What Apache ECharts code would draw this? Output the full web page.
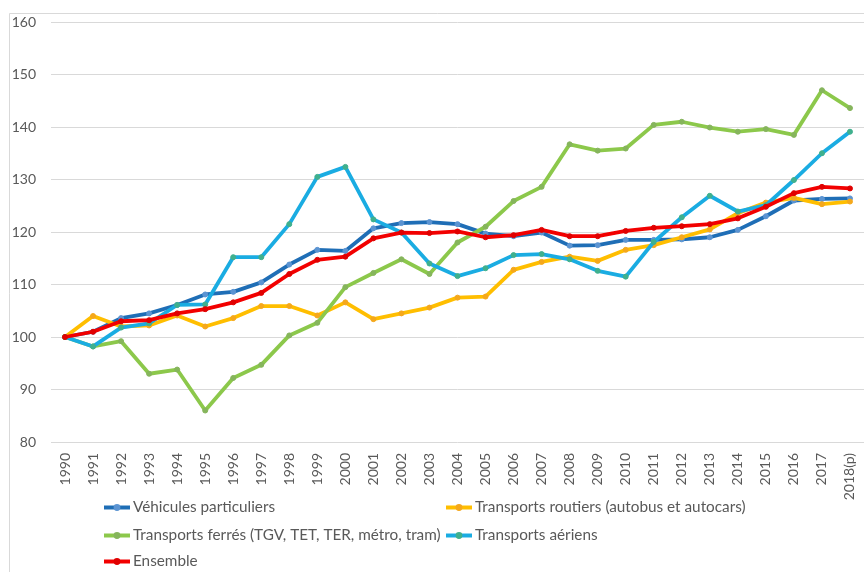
<!DOCTYPE html>
<html>
<head>
<meta charset="utf-8">
<script src="https://cdn.jsdelivr.net/npm/echarts@6/dist/echarts.min.js"></script>
<style>
html,body{margin:0;padding:0;background:#fff;}
#chart{width:864px;height:572px;}
</style>
</head>
<body>
<div id="chart"></div>
<script>
const years = ['1990','1991','1992','1993','1994','1995','1996','1997','1998','1999','2000','2001','2002','2003','2004','2005','2006','2007','2008','2009','2010','2011','2012','2013','2014','2015','2016','2017','2018(p)'];

const vehicules = [100,101,103.6,104.5,106.1,108.1,108.6,110.4,113.8,116.6,116.4,120.7,121.7,121.9,121.5,119.7,119.2,119.9,117.4,117.5,118.5,118.5,118.6,119.0,120.4,123.0,126.0,126.3,126.4];
const routiers = [100,104.0,102.0,102.2,104.1,102.0,103.6,105.9,105.9,104.1,106.6,103.4,104.5,105.6,107.5,107.7,112.8,114.3,115.3,114.5,116.6,117.5,119.0,120.5,123.6,125.6,126.5,125.3,125.8];
const ferres = [100,98.2,99.2,93.0,93.8,86.0,92.2,94.7,100.3,102.7,109.5,112.2,114.8,112.0,118.0,121.0,125.9,128.6,136.7,135.5,135.9,140.4,141.0,139.9,139.1,139.6,138.5,147.0,143.6];
const aeriens = [100,98.2,101.8,102.6,106.1,106.2,115.2,115.2,121.5,130.5,132.4,122.4,119.9,114.0,111.6,113.1,115.6,115.8,114.8,112.6,111.5,118.1,122.8,126.9,123.9,125.1,129.9,135.0,139.1];
const ensemble = [100,101.0,103.0,103.2,104.5,105.3,106.6,108.4,112.0,114.7,115.3,118.8,119.9,119.8,120.1,119.0,119.4,120.4,119.2,119.2,120.2,120.8,121.1,121.5,122.6,124.8,127.4,128.6,128.3];

const names = ['Véhicules particuliers','Transports routiers (autobus et autocars)','Transports ferrés (TGV, TET, TER, métro, tram)','Transports aériens','Ensemble'];
const values = [vehicules, routiers, ferres, aeriens, ensemble];
const lineColors = ['#1F6EB6','#FFBE00','#8CC84B','#1AACE2','#F20000'];
const markerColors = ['#5B94D2','#F5A81C','#86B55C','#3FB08E','#E00000'];

const FONT = 'Lato, "Liberation Sans", sans-serif';
const TXT = '#595959';

const chart = echarts.init(document.getElementById('chart'), null, {renderer:'canvas'});

const legendPos = [
  {left:102, top:500},
  {left:444, top:500},
  {left:102, top:528},
  {left:444, top:528},
  {left:102, top:554}
];

chart.setOption({
  animation:false,
  backgroundColor:'#fff',
  graphic:[{
    type:'rect', silent:true, z:-10,
    shape:{x:9.5, y:13.5, width:900, height:600},
    style:{fill:'none', stroke:'#d9d9d9', lineWidth:1}
  }],
  grid:{left:51, top:22, width:821.7, height:420, containLabel:false},
  legend: names.map((n,i)=>({
    data:[n], left:legendPos[i].left, top:legendPos[i].top,
    itemWidth:26, itemHeight:6, itemGap:0, padding:0,
    lineStyle:{width:4},
    textStyle:{fontFamily:FONT, fontSize:15.3, color:TXT, padding:[0,0,0,-2]}
  })),
  xAxis:{
    type:'category', data:years, boundaryGap:true,
    axisLine:{show:false}, axisTick:{show:false},
    axisLabel:{rotate:90, interval:0, margin:11, fontFamily:FONT, fontSize:14, color:TXT}
  },
  yAxis:{
    type:'value', min:80, max:160, interval:10,
    axisLine:{show:false}, axisTick:{show:false},
    splitLine:{lineStyle:{color:'#d9d9d9', width:1}},
    axisLabel:{margin:15, fontFamily:FONT, fontSize:14, color:TXT}
  },
  series: names.map((n,i)=>({
    name:n, type:'line', data:values[i],
    symbol:'circle', symbolSize:5, showSymbol:true,
    lineStyle:{color:lineColors[i], width:3.8},
    itemStyle:{color:markerColors[i], borderColor:markerColors[i], borderWidth:1},
    z:2+i
  }))
});
</script>
</body>
</html>
